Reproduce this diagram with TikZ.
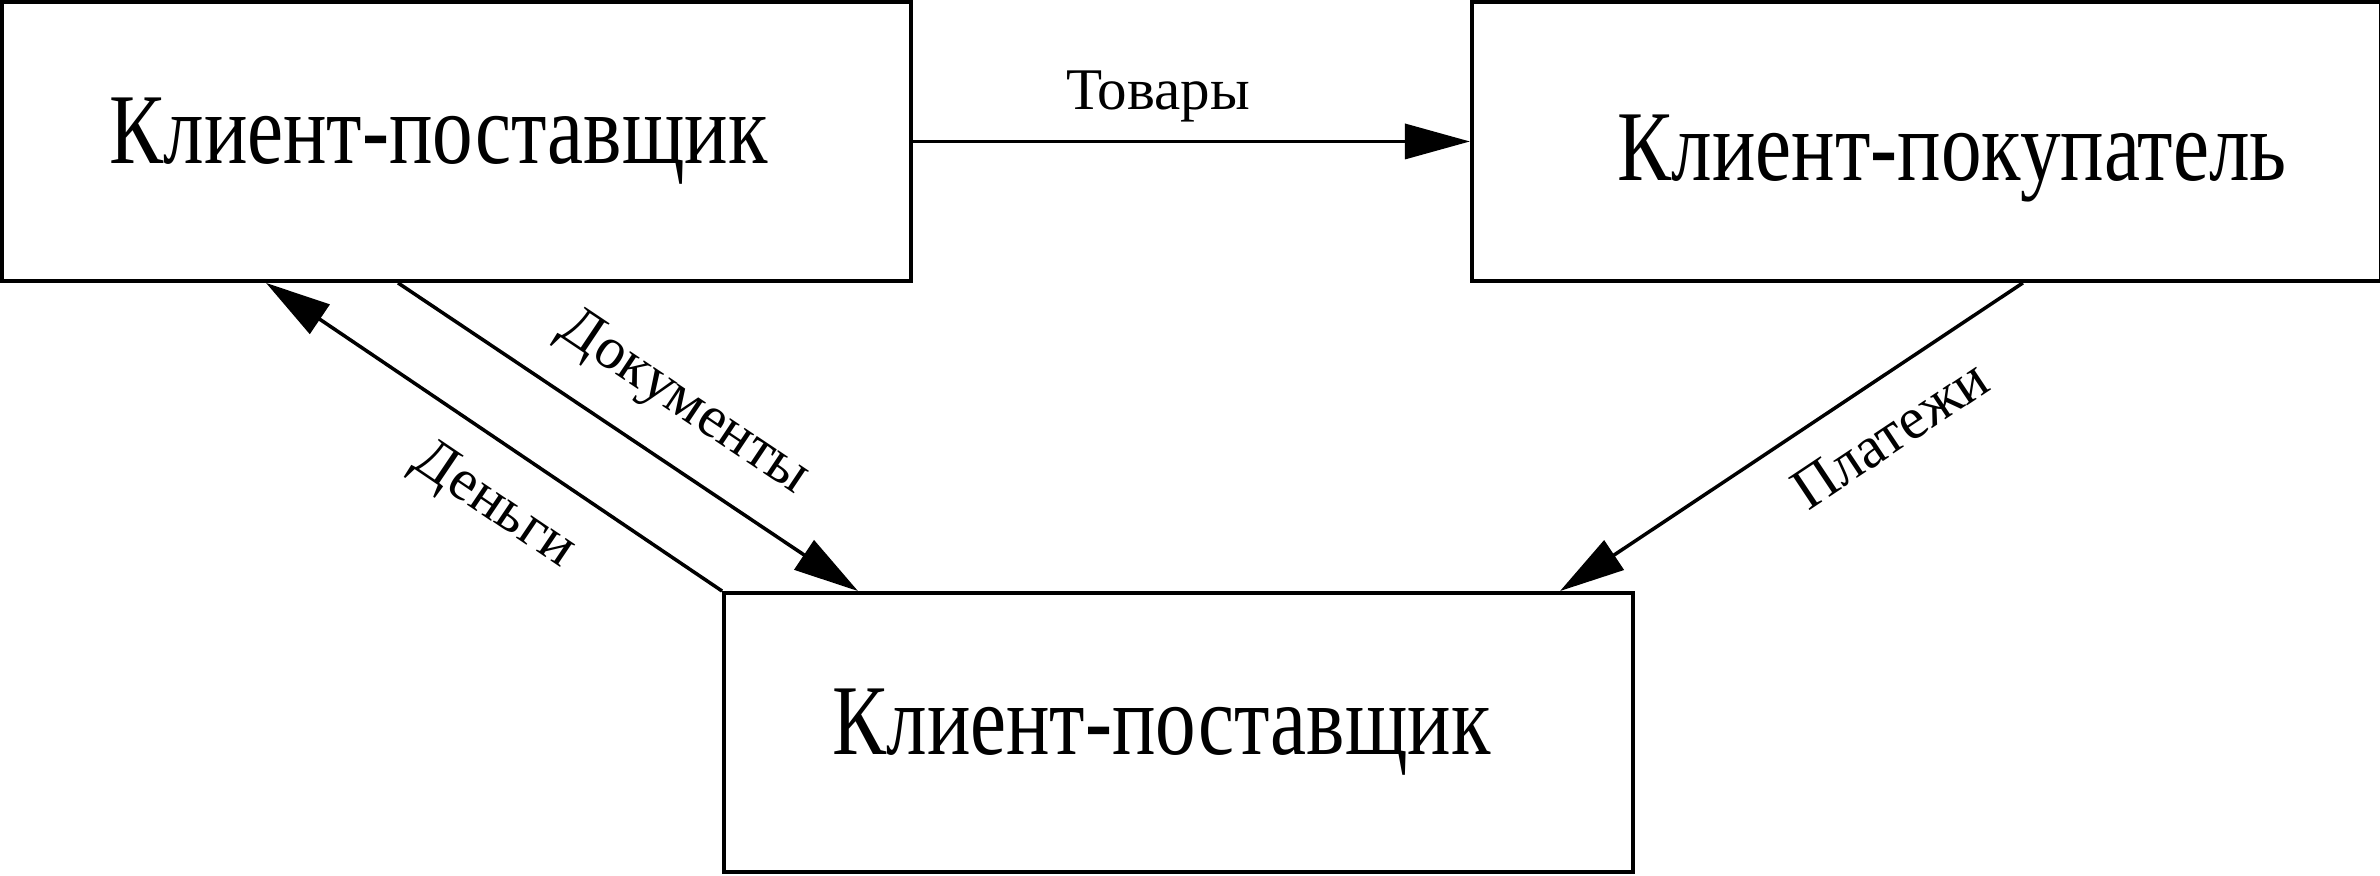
\documentclass[tikz,border=0pt]{standalone}
\usepackage{fontspec}
\setmainfont{Liberation Serif}
\newfontfamily\boxfont[FakeStretch=0.81]{Liberation Serif}
\usetikzlibrary{arrows.meta, positioning, calc}

% text moved inside its box: #1 horizontal (twice the shift), #2 vertical
\newcommand{\boxtext}[3]{\hspace*{#1}\raisebox{#2}[\height][\depth]{#3}}

\tikzset{
  clientbox/.style={draw, line width=1.1pt, minimum width=9.09cm, minimum height=2.79cm,
                    inner sep=0pt, font=\boxfont\fontsize{28.5}{32}\selectfont},
  flow/.style={line width=1pt, -{Triangle[length=6.5mm, width=3.5mm]}},
  flowlabel/.style={font=\fontsize{16.8}{19}\selectfont}
}

\begin{document}
\begin{tikzpicture}
\useasboundingbox (0,0) rectangle (23.8,8.76);
%
\node[clientbox] (supA) at (4.565,7.345) {\boxtext{-0.36cm}{0cm}{Клиент-поставщик}};
\node[clientbox, right=5.57cm of supA] (buyer) {\boxtext{0.52cm}{-0.17cm}{Клиент-покупатель}};
\node[clientbox] (supB) at (11.785,1.435) {\boxtext{-0.34cm}{0cm}{Клиент-поставщик}};

\coordinate (docA) at ([xshift=-0.585cm]supA.south);
\coordinate (monA) at ([xshift=-1.905cm]supA.south);
\coordinate (docB) at ([xshift=-3.205cm]supB.north);
\coordinate (payB) at ([xshift=3.815cm]supB.north);
\coordinate (payA) at ([xshift=0.965cm]buyer.south);

\draw[flow] (supA.east) -- node[flowlabel, pos=0.44, above=0.6mm] {Товары} (buyer.west);
\draw[flow] (docA) -- node[flowlabel, pos=0.55, sloped, above=1.9mm] {Документы} (docB);
\draw[flow] (supB.north west) -- node[flowlabel, pos=0.43, sloped, below=1.9mm] {Деньги} (monA);
\draw[flow] (payA) -- node[flowlabel, pos=0.35, sloped, below=1.9mm] {Платежи} (payB);
%
\end{tikzpicture}
\end{document}
